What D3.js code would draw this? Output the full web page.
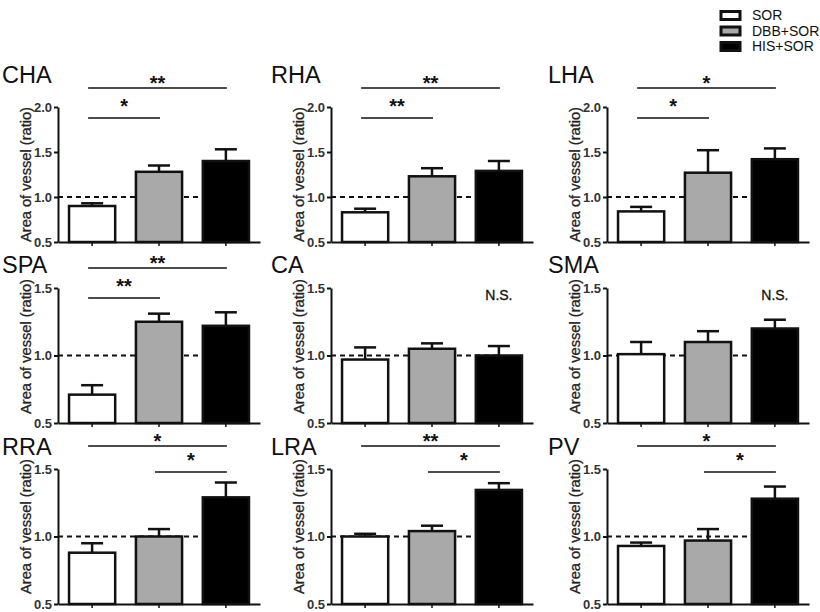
<!DOCTYPE html>
<html><head><meta charset="utf-8">
<script src="https://cdn.jsdelivr.net/npm/d3@7"></script>
<style>body{margin:0;background:#fff} svg{display:block;font-family:"Liberation Sans",Arial,sans-serif}</style>
</head><body>
<svg id="chart" width="820" height="612"></svg>
<script>
// ---- data ----
const groups = ["SOR", "DBB+SOR", "HIS+SOR"];
const panelNames = ["CHA", "RHA", "LHA", "SPA", "CA", "SMA", "RRA", "LRA", "PV"];
const meanCHA = [0.90, 1.28, 1.40], errCHA = [0.03, 0.07, 0.13];
const meanRHA = [0.83, 1.23, 1.29], errRHA = [0.04, 0.09, 0.11];
const meanLHA = [0.84, 1.27, 1.42], errLHA = [0.05, 0.25, 0.12];
const meanSPA = [0.71, 1.25, 1.22], errSPA = [0.07, 0.06, 0.10];
const meanCA  = [0.97, 1.05, 1.00], errCA  = [0.09, 0.04, 0.07];
const meanSMA = [1.01, 1.10, 1.20], errSMA = [0.09, 0.08, 0.065];
const meanRRA = [0.88, 1.00, 1.29], errRRA = [0.07, 0.055, 0.11];
const meanLRA = [1.00, 1.04, 1.345], errLRA = [0.02, 0.04, 0.05];
const meanPV  = [0.93, 0.97, 1.28], errPV  = [0.025, 0.085, 0.09];
const ticksRow1 = [0.5, 1.0, 1.5, 2.0];
const ticksRow23 = [0.5, 1.0, 1.5];
const referenceLevel = 1.0;
// significance: [from, to, label, level]
const sigCHA = [[0, 2, "**", 0], [0, 1, "*", 1]];
const sigRHA = [[0, 2, "**", 0], [0, 1, "**", 1]];
const sigLHA = [[0, 2, "*", 0], [0, 1, "*", 1]];
const sigSPA = [[0, 2, "**", 0], [0, 1, "**", 1]];
const sigCA = [], sigSMA = [];
const sigRRA = [[0, 2, "*", 0], [1, 2, "*", 1]];
const sigLRA = [[0, 2, "**", 0], [1, 2, "*", 1]];
const sigPV  = [[0, 2, "*", 0], [1, 2, "*", 1]];
const nsPanels = ["CA", "SMA"];
const yLabel = "Area of vessel (ratio)";

const panels = [
  {name: "CHA", mean: meanCHA, err: errCHA, sig: sigCHA},
  {name: "RHA", mean: meanRHA, err: errRHA, sig: sigRHA},
  {name: "LHA", mean: meanLHA, err: errLHA, sig: sigLHA},
  {name: "SPA", mean: meanSPA, err: errSPA, sig: sigSPA},
  {name: "CA",  mean: meanCA,  err: errCA,  sig: sigCA},
  {name: "SMA", mean: meanSMA, err: errSMA, sig: sigSMA},
  {name: "RRA", mean: meanRRA, err: errRRA, sig: sigRRA},
  {name: "LRA", mean: meanLRA, err: errLRA, sig: sigLRA},
  {name: "PV",  mean: meanPV,  err: errPV,  sig: sigPV}
];

// ---- layout ----
const fills = {"SOR": "#ffffff", "DBB+SOR": "#a9a9a9", "HIS+SOR": "#000000"};
const colX = [58, 331, 607];
const plotW = 202, plotH = 135;
const rowTop = [107, 288, 469];
const titleX = [2, 271, 548];
const titleY = [83, 273, 455];
const sigLineY = [[88, 118], [268, 298], [446, 472]];
const starDy = [2, -5];
const labelLen = [135, 135, 135];
const labelShift = [0, -9, -10];

const svg = d3.select("#chart");

panels.forEach((p, i) => {
  const r = Math.floor(i / 3), c = i % 3;
  const x0 = colX[c], top = rowTop[r], bottom = top + plotH;
  const domain = r === 0 ? [0.5, 2.0] : [0.5, 1.5];
  const y = d3.scaleLinear().domain(domain).range([bottom, top]);
  const x = d3.scaleBand().domain(groups).range([x0, x0 + plotW]).paddingInner(0.31).paddingOuter(0.165);
  const g = svg.append("g");

  // reference dashed line (behind bars)
  g.append("line")
    .attr("x1", x0).attr("x2", x(groups[2]) + x.bandwidth() / 2)
    .attr("y1", y(referenceLevel)).attr("y2", y(referenceLevel))
    .attr("stroke", "#111").attr("stroke-width", 2).attr("stroke-dasharray", "5,4");

  const data = groups.map((k, j) => ({k, v: p.mean[j], e: p.err[j]}));

  // error bars
  g.selectAll(".eb").data(data).join("line")
    .attr("x1", d => x(d.k) + x.bandwidth() / 2).attr("x2", d => x(d.k) + x.bandwidth() / 2)
    .attr("y1", d => y(d.v)).attr("y2", d => y(d.v + d.e))
    .attr("stroke", "#111").attr("stroke-width", 2.5);
  g.selectAll(".cap").data(data).join("line")
    .attr("x1", d => x(d.k) + x.bandwidth() / 2 - 11).attr("x2", d => x(d.k) + x.bandwidth() / 2 + 11)
    .attr("y1", d => y(d.v + d.e)).attr("y2", d => y(d.v + d.e))
    .attr("stroke", "#111").attr("stroke-width", 2.5);

  // bars
  g.selectAll(".bar").data(data).join("rect")
    .attr("x", d => x(d.k)).attr("width", x.bandwidth())
    .attr("y", d => y(d.v)).attr("height", d => bottom - y(d.v))
    .attr("fill", d => fills[d.k]).attr("stroke", "#111").attr("stroke-width", 2.5);

  // y axis
  const yAxis = d3.axisLeft(y).tickValues(r === 0 ? ticksRow1 : ticksRow23)
    .tickFormat(d3.format(".1f")).tickSize(4).tickSizeOuter(0).tickPadding(2);
  const ya = g.append("g").attr("transform", `translate(${x0},0)`).call(yAxis);
  ya.select(".domain").attr("stroke", "#111").attr("stroke-width", 2);
  ya.selectAll(".tick line").attr("stroke", "#111").attr("stroke-width", 2);
  ya.selectAll(".tick text").attr("font-size", 13).attr("font-weight", "bold").attr("fill", "#333")
    .attr("font-family", "'Liberation Sans',Arial,sans-serif");

  // x axis
  const xAxis = d3.axisBottom(x).tickSize(4).tickSizeOuter(0).tickFormat("");
  const xa = g.append("g").attr("transform", `translate(0,${bottom})`).call(xAxis);
  xa.select(".domain").attr("stroke", "#111").attr("stroke-width", 2);
  xa.selectAll(".tick line").attr("stroke", "#111").attr("stroke-width", 1.5);

  // y label
  const ly = (top + bottom) / 2 + labelShift[r];
  g.append("text")
    .attr("transform", `translate(${x0 - 27},${ly}) rotate(-90)`)
    .attr("text-anchor", "middle").attr("font-size", 14.5).attr("fill", "#222")
    .attr("stroke", "#222").attr("stroke-width", 0.3)
    .attr("textLength", labelLen[r]).attr("lengthAdjust", "spacingAndGlyphs")
    .text(yLabel);

  // title
  g.append("text").attr("x", titleX[c]).attr("y", titleY[r])
    .attr("font-size", 23.5).attr("fill", "#111").text(p.name);

  // significance
  p.sig.forEach(s => {
    const xa1 = x(groups[s[0]]) + x.bandwidth() / 2 - 4;
    const xa2 = x(groups[s[1]]) + x.bandwidth() / 2 + 1;
    const ly2 = sigLineY[r][s[3]];
    g.append("line").attr("x1", xa1).attr("x2", xa2).attr("y1", ly2).attr("y2", ly2)
      .attr("stroke", "#111").attr("stroke-width", 1.6);
    g.append("text").attr("x", (xa1 + xa2) / 2).attr("y", ly2 + starDy[s[3]])
      .attr("text-anchor", "middle").attr("font-size", 20).attr("font-weight", "bold").attr("fill", "#111")
      .text(s[2]);
  });
  if (nsPanels.includes(p.name)) {
    g.append("text").attr("x", x(groups[2]) + x.bandwidth() / 2).attr("y", y(1.45) + 5)
      .attr("text-anchor", "middle").attr("font-size", 14).attr("fill", "#111")
      .attr("stroke", "#111").attr("stroke-width", 0.3).text("N.S.");
  }
});

// legend
const legendY = [15.5, 31, 46.5];
const lg = svg.append("g");
groups.forEach((k, j) => {
  lg.append("rect").attr("x", 721).attr("y", legendY[j] - 4).attr("width", 19).attr("height", 8)
    .attr("fill", fills[k]).attr("stroke", "#111").attr("stroke-width", 3);
  lg.append("text").attr("x", 752).attr("y", legendY[j] + 4.5).attr("font-size", 14).attr("fill", "#111").text(k);
});
</script>
</body></html>
